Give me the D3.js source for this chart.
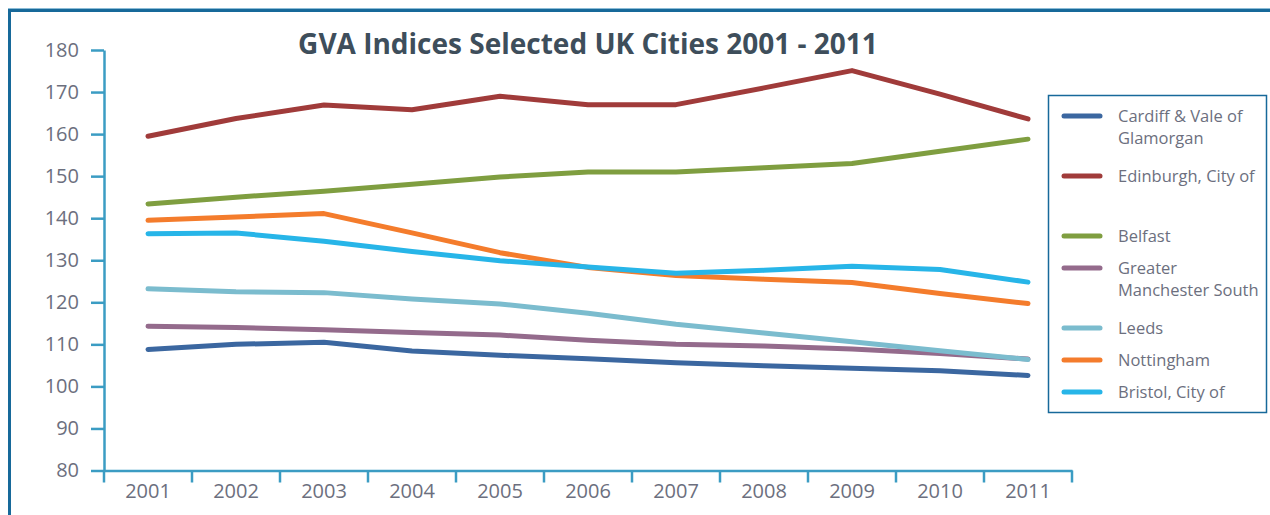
<!DOCTYPE html>
<html>
<head>
<meta charset="utf-8">
<script src="https://cdn.jsdelivr.net/npm/d3@7"></script>
<style>
	body { margin: 0; background: #fff; }
	text { font-family: "Open Sans", "Noto Sans", sans-serif; }
</style>
</head>
<body>
<div id="chart"></div>
<script>
	// years on the x axis
	var years = ['2001','2002','2003','2004','2005','2006','2007','2008','2009','2010','2011'];
	var yTicks = [80, 90, 100, 110, 120, 130, 140, 150, 160, 170, 180];

	// GVA index values
	var cardiff    = [108.8, 110.0, 110.5, 108.4, 107.4, 106.6, 105.6, 104.9, 104.3, 103.7, 102.6];
	var edinburgh  = [159.5, 163.7, 166.9, 165.8, 169.0, 167.0, 167.0, 171.0, 175.1, 169.5, 163.6];
	var belfast    = [143.4, 145.0, 146.4, 148.1, 149.8, 151.0, 151.0, 152.0, 153.0, 155.9, 158.8];
	var manchester = [114.3, 114.0, 113.5, 112.8, 112.2, 111.0, 110.0, 109.6, 108.9, 107.8, 106.5];
	var leeds      = [123.2, 122.5, 122.3, 120.8, 119.6, 117.4, 114.8, 112.7, 110.6, 108.5, 106.4];
	var nottingham = [139.5, 140.3, 141.1, 136.5, 131.8, 128.3, 126.4, 125.5, 124.7, 122.1, 119.7];
	var bristol    = [136.3, 136.5, 134.5, 132.1, 129.9, 128.4, 126.9, 127.6, 128.6, 127.8, 124.8];

	var seriesNames = [
		['Cardiff & Vale of', 'Glamorgan'],
		['Edinburgh, City of', ''],
		['Belfast'],
		['Greater', 'Manchester South'],
		['Leeds'],
		['Nottingham'],
		['Bristol, City of']
	];
	var seriesValues = [cardiff, edinburgh, belfast, manchester, leeds, nottingham, bristol];
	var seriesColors = ['#3b67a0', '#a03b3a', '#7f9e40', '#946b8c', '#7bbcce', '#f47c2c', '#27b5e8'];

	var W = 1270, H = 515;
	var axisColor = '#3b9cc3';
	var textColor = '#6c6f7e';

	var svg = d3.select('#chart').append('svg')
		.attr('width', W)
		.attr('height', H);

	// outer frame (only top and left edge are visible)
	svg.append('rect').attr('x', 8).attr('y', 8).attr('width', W).attr('height', 1).attr('fill', '#8cbcd6');
	svg.append('rect').attr('x', 8).attr('y', 9).attr('width', W).attr('height', 3).attr('fill', '#17699a');
	svg.append('rect').attr('x', 8).attr('y', 9).attr('width', 3).attr('height', H).attr('fill', '#17699a');

	svg.append('text')
		.attr('x', 588)
		.attr('y', 54)
		.attr('text-anchor', 'middle')
		.attr('font-size', 28)
		.attr('font-weight', 'bold')
		.attr('fill', '#3e4e5b')
		.text('GVA Indices Selected UK Cities 2001 - 2011');

	var x = d3.scaleBand().domain(years).range([104, 1072]).padding(0);
	var y = d3.scaleLinear().domain([80, 180]).range([470.5, 50]);

	// y axis
	var gy = svg.append('g')
		.attr('transform', 'translate(104,0)')
		.call(d3.axisLeft(y).tickValues(yTicks).tickSize(13).tickPadding(12).tickSizeOuter(0));
	gy.select('.domain').attr('stroke', axisColor).attr('stroke-width', 2.5);
	gy.selectAll('.tick line').attr('stroke', axisColor).attr('stroke-width', 2.5);
	gy.selectAll('.tick text').attr('fill', textColor).attr('font-size', 20)
		.attr('font-family', '"Open Sans", sans-serif');

	// x axis: labels in band centres, ticks on band edges
	var gx = svg.append('g')
		.attr('transform', 'translate(0,470.5)')
		.call(d3.axisBottom(x).tickSize(0).tickPadding(13));
	gx.select('.domain').attr('stroke', axisColor).attr('stroke-width', 2.5);
	gx.selectAll('.tick text').attr('fill', textColor).attr('font-size', 20)
		.attr('font-family', '"Open Sans", sans-serif');
	var edges = years.map(function(d) { return x(d); }).concat([x.range()[1]]);
	gx.selectAll('line.edge')
		.data(edges)
		.enter().append('line')
		.attr('class', 'edge')
		.attr('x1', function(d) { return d; })
		.attr('x2', function(d) { return d; })
		.attr('y1', 0)
		.attr('y2', 12)
		.attr('stroke', axisColor)
		.attr('stroke-width', 2.5);

	// lines
	var line = d3.line()
		.x(function(d, i) { return x(years[i]) + x.bandwidth() / 2; })
		.y(function(d) { return y(d); });

	svg.append('g').selectAll('path')
		.data(seriesValues)
		.enter().append('path')
		.attr('d', line)
		.attr('fill', 'none')
		.attr('stroke', function(d, i) { return seriesColors[i]; })
		.attr('stroke-width', 5)
		.attr('stroke-linecap', 'round')
		.attr('stroke-linejoin', 'round');

	// legend
	var lg = svg.append('g');
	lg.append('rect')
		.attr('x', 1048.5).attr('y', 95.5)
		.attr('width', 218).attr('height', 317)
		.attr('fill', '#fff')
		.attr('stroke', '#17699a')
		.attr('stroke-width', 1.5);

	var ly = 116;
	seriesNames.forEach(function(name, i) {
		lg.append('line')
			.attr('x1', 1064).attr('x2', 1100)
			.attr('y1', ly).attr('y2', ly)
			.attr('stroke', seriesColors[i])
			.attr('stroke-width', 5)
			.attr('stroke-linecap', 'round');
		var t = lg.append('text')
			.attr('x', 1118)
			.attr('y', ly + 6)
			.attr('font-size', 16.5)
			.attr('fill', textColor);
		name.forEach(function(s, k) {
			t.append('tspan').attr('x', 1118).attr('dy', k == 0 ? 0 : 21.5).text(s);
		});
		ly += name.length > 1 ? 60 : 32;
	});
</script>
</body>
</html>
